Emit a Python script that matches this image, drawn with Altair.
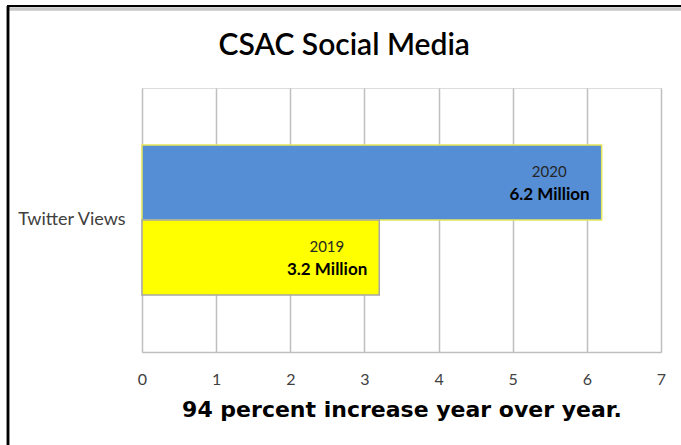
import altair as alt
import pandas as pd

categories = ["Twitter Views", "Twitter Views"]
years = ["2020", "2019"]
values = [6.2, 3.2]
value_labels = ["6.2 Million", "3.2 Million"]
bar_colors = ["#558ed5", "#ffff00"]
stroke_colors = ["#e6e65a", "#a6a6a6"]
x_ticks = [0, 1, 2, 3, 4, 5, 6, 7]

df = pd.DataFrame({"cat": categories, "year": years, "value": values, "label": value_labels})

FONT = "Lato"

y_enc = alt.Y("cat:N", title=None,
              scale=alt.Scale(paddingOuter=0.38, paddingInner=0),
              axis=alt.Axis(domain=False, ticks=False, labelFontSize=18, labelColor="#404040",
                            labelFont=FONT, labelPadding=17))
yoff = alt.YOffset("year:N", sort=years, scale=alt.Scale(paddingInner=0, paddingOuter=0))
x_enc = alt.X("value:Q", title="94 percent increase year over year.",
              scale=alt.Scale(domain=[0, 7], nice=False),
              axis=alt.Axis(values=x_ticks, format="d", grid=True, gridColor="#bfbfbf", gridWidth=1.5,
                            domainColor="#bfbfbf", domainWidth=1.5, ticks=False, labelFlush=False,
                            labelFontSize=16, labelColor="#404040", labelFont=FONT,
                            labelPadding=19, titleFont="DejaVu Sans", titleFontSize=22,
                            titleFontWeight="bold", titleColor="#000000", titlePadding=12))

bars = alt.Chart(df).mark_bar(strokeWidth=1.5).encode(
    x=x_enc, y=y_enc, yOffset=yoff,
    color=alt.Color("year:N", scale=alt.Scale(domain=years, range=bar_colors), legend=None),
    stroke=alt.Stroke("year:N", scale=alt.Scale(domain=years, range=stroke_colors), legend=None),
)

year_text = alt.Chart(df).mark_text(align="right", dx=-35, dy=-11, fontSize=15, font=FONT,
                                    color="#262626").encode(
    x="value:Q", y=alt.Y("cat:N"), yOffset=yoff, text="year:N")
val_text = alt.Chart(df).mark_text(align="right", dx=-12, dy=12, fontSize=17, font=FONT,
                                   fontWeight="bold", color="#000000").encode(
    x="value:Q", y=alt.Y("cat:N"), yOffset=yoff, text="label:N")

frame_left = alt.Chart(df).mark_rule(color="#000000", strokeWidth=2.5).encode(
    x=alt.value(-134), y=alt.value(-82), y2=alt.value(357))
frame_shadow = alt.Chart(df).mark_rule(color="#c8c8c8", strokeWidth=3).encode(
    x=alt.value(-133), x2=alt.value(539), y=alt.value(-79))
frame_top = alt.Chart(df).mark_rule(color="#000000", strokeWidth=2).encode(
    x=alt.value(-135), x2=alt.value(539), y=alt.value(-82))

chart = alt.layer(bars, year_text, val_text, frame_shadow, frame_top, frame_left).properties(
    width=519, height=264,
    title=alt.Title("CSAC Social Media", font=FONT, fontSize=30, fontWeight=600,
                    color="#000000", anchor="middle", frame="bounds", offset=-56),
    autosize=alt.AutoSizeParams(type="none"),
    padding={"left": 142, "top": 88, "right": 20, "bottom": 93},
).configure_view(stroke=None).configure(background="white")

chart.save("out.html", embed_options={"renderer": "svg", "actions": False})
